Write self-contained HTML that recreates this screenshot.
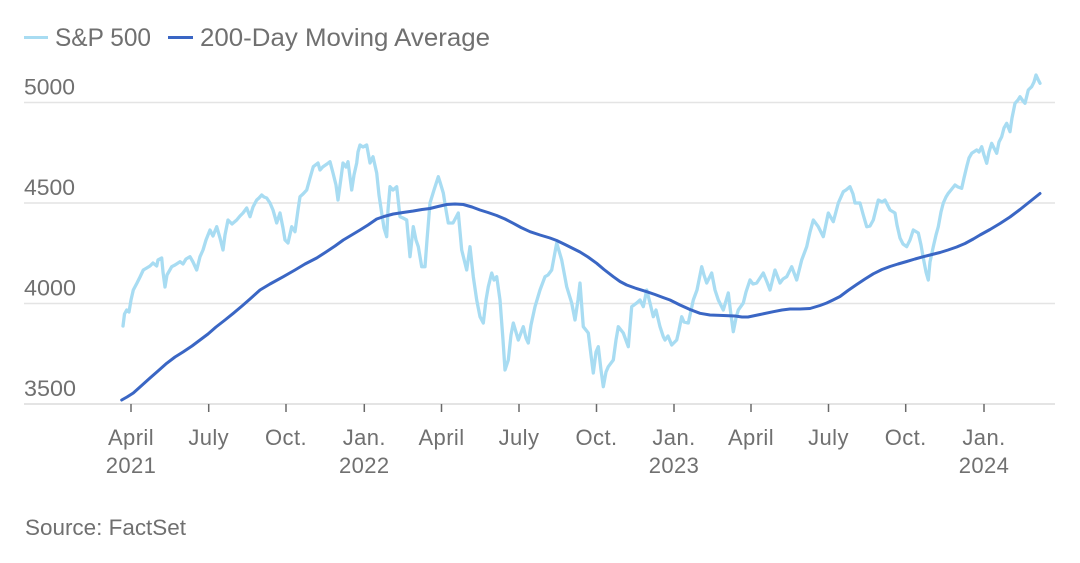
<!DOCTYPE html>
<html><head><meta charset="utf-8"><style>
html,body{margin:0;padding:0;background:#fff;}
body{width:1080px;height:563px;overflow:hidden;}
svg{display:block;}
text{font-family:"Liberation Sans",sans-serif;fill:#707070;}
</style></head><body>
<svg width="1080" height="563" viewBox="0 0 1080 563" xmlns="http://www.w3.org/2000/svg">
<!-- legend -->
<line x1="24" y1="37.5" x2="48" y2="37.5" stroke="#a8dcf2" stroke-width="3"/>
<text x="55" y="46" font-size="25" textLength="96" lengthAdjust="spacingAndGlyphs">S&amp;P 500</text>
<line x1="168" y1="37.5" x2="193" y2="37.5" stroke="#3a66c4" stroke-width="3"/>
<text x="200" y="46" font-size="25" textLength="290" lengthAdjust="spacingAndGlyphs">200-Day Moving Average</text>
<!-- grid -->
<g stroke="#e4e4e4" stroke-width="1.5">
<line x1="24" y1="102.5" x2="1055" y2="102.5"/>
<line x1="24" y1="203" x2="1055" y2="203"/>
<line x1="24" y1="303.5" x2="1055" y2="303.5"/>
<line x1="24" y1="404" x2="1055" y2="404" stroke="#dcdcdc"/>
</g>
<g font-size="22">
<text x="24" y="94.5" textLength="51" lengthAdjust="spacingAndGlyphs">5000</text>
<text x="24" y="195" textLength="51" lengthAdjust="spacingAndGlyphs">4500</text>
<text x="24" y="295.5" textLength="52" lengthAdjust="spacingAndGlyphs">4000</text>
<text x="24" y="396" textLength="52" lengthAdjust="spacingAndGlyphs">3500</text>
</g>
<!-- ticks -->
<g stroke="#6a6a6a" stroke-width="1.5">
<line x1="131" y1="404" x2="131" y2="412"/>
<line x1="208.7" y1="404" x2="208.7" y2="412"/>
<line x1="286" y1="404" x2="286" y2="412"/>
<line x1="364.3" y1="404" x2="364.3" y2="412"/>
<line x1="441.5" y1="404" x2="441.5" y2="412"/>
<line x1="519" y1="404" x2="519" y2="412"/>
<line x1="596.5" y1="404" x2="596.5" y2="412"/>
<line x1="674" y1="404" x2="674" y2="412"/>
<line x1="751" y1="404" x2="751" y2="412"/>
<line x1="828.5" y1="404" x2="828.5" y2="412"/>
<line x1="905.7" y1="404" x2="905.7" y2="412"/>
<line x1="984" y1="404" x2="984" y2="412"/>
</g>
<g font-size="22" text-anchor="middle" letter-spacing="0.4">
<text x="131" y="445">April</text><text x="131" y="473">2021</text>
<text x="208.7" y="445">July</text>
<text x="286" y="445">Oct.</text>
<text x="364.3" y="445">Jan.</text><text x="364.3" y="473">2022</text>
<text x="441.5" y="445">April</text>
<text x="519" y="445">July</text>
<text x="596.5" y="445">Oct.</text>
<text x="674" y="445">Jan.</text><text x="674" y="473">2023</text>
<text x="751" y="445">April</text>
<text x="828.5" y="445">July</text>
<text x="905.7" y="445">Oct.</text>
<text x="984" y="445">Jan.</text><text x="984" y="473">2024</text>
</g>
<!-- S&P 500 -->
<polyline fill="none" stroke="#a8dcf2" stroke-width="3.3" stroke-linejoin="round" stroke-linecap="round" points="
123,326 124.5,314 126.7,310 129,312 131,300 133.3,290 137,283 140,277 143.3,270 146.7,268 150,266 153,263 156.7,266 158,260 161.7,258 163,272 165,287 167,275 171.7,266.7 175,265 180,261.7 183,264 186,259 190,256.7 193,262 196.7,270 200,256.7 203,250 206,240 210,230 213,236 216.7,226.7 220,238 223,250 225,235 228,220 232,224 236.7,220 240,216 243,213 246.7,208 250,216.7 253,207 256.7,200 259,198 261.7,195 264,197 266.7,198 270,203 273,210 276.7,223 280,213 283,228 285,240 288,243 291.7,226.7 295,231.7 298,210 300,196.7 303,194 306.7,190 310,178 313.3,166.7 318,163 320,170 323,166.7 327,164 330,161.7 333,173 336,185 338,200 341,178 343,163 346,167 348,161.7 351.7,190 354,175 356.7,163 358,152 360,145 363,147 366.7,145 368,152 370,163 373,156.7 376.7,173 379,195 381.7,213 384,228 386.7,236.7 388,210 390,186.7 393,190 396.7,186.7 400,216.7 403,218 406.7,220 410,256.7 413.3,226.7 416,240 418.3,246.7 421.7,266.7 425,266.7 427,240 430,203 434,190 438.3,176.7 440,182 443.3,193 446,210 448.3,223 453,223 458.3,213 461.7,250 466.7,270 470,246.7 473.3,276.7 476.7,300 480,316.7 483.3,323 486,300 488.3,286.7 491.7,273 494,280 496.7,276.7 500,300 503,340 505,370 508.3,360 511,335 513.3,323 518.3,340 523.3,326.7 526,338 528.3,343 531,325 535,306.7 540,290 545,276.7 548,275 551.7,270 556.7,243 561.7,260 566.7,286.7 571.7,303 575,320 578,300 580,283 583.3,326.7 588.3,333 591,355 593.3,373 596,352 598.3,346.7 601,370 603.3,386.7 606,372 608.3,366.7 613.3,360 616,340 618.3,326.7 623.3,333 628.3,346.7 631.7,306.7 636.7,303 640,300 643.3,306.7 646.7,290 650,303 653.3,316.7 656,310 660,326.7 663.3,336.7 665,340 668,336 671.7,345 676.7,340 679,330 681.7,316.7 684,322 688.3,323 693.3,300 697,290 701.7,266.7 704,275 706.7,283 711.7,273 715,290 718.3,300 723.3,310 728.3,293 731,315 733.3,331.7 736,318 738.3,310 743.3,303 746,292 750,280 753,284 756.7,283 760,278 763.3,273 767,282 770,290 775,270 780,283 783,279 786.7,276.7 791.7,266.7 796.7,280 801.7,260 806.7,246.7 810,232 813.3,220 818.3,226.7 823.3,236.7 828.3,213 833.3,221.7 838.3,203 843.3,191.7 846,190 850,186.7 853,194 855,203 860,203 863,214 866.7,226.7 870,226 873.3,220 878.3,200 882,202 885,200 890,210 895,213 897,225 900,238 903,244 906.7,246.7 910,240 913.3,230 918.3,233 921,245 923.3,258 926,272 928.3,280 930,262 933.3,246.7 936,235 938.3,226.7 941,212 943.3,203 946,197 948.3,193.3 951,190 955,185 958,187 961.7,188.3 964,178 966.7,166.7 969,158 971.7,153.3 976.7,150 979,152 981.7,146.7 984,155 986.7,163.3 989,152 991.7,143.3 994,148 996.7,153.3 999,142 1001.7,136.7 1004,128 1006.7,123.3 1010,131.7 1012,118 1015,103.3 1018,100 1020,96.7 1023,101 1025,103.3 1028.3,90 1031.7,86.7 1034,82 1036,75 1038.3,80 1040,83.3"/>
<!-- 200-Day MA -->
<polyline fill="none" stroke="#3a66c4" stroke-width="3" stroke-linejoin="round" stroke-linecap="round" points="
121.7,400 127,397 133.3,393 140,387 150,378 158,371 166.7,363.3 175,357 183,352 192,346 200,340 208,334 216,327 225,320 233.3,313.3 242,306 250,299 260,290 270,284 283.3,276.7 295,270 305,264 316.7,258 326,252 335,246 343.3,240 350,236 360,230 368,225 376.7,219 384,216.5 393.3,214 403,212.5 413.3,211 422,209.5 430,208.5 438,206.5 446.7,204.5 455,204 463.3,204.5 472,207 480,210 488,212.5 496.7,215.5 505,219 513.3,223.3 521,227.5 530,231.7 540,235 550,238 556.7,240.5 565,244.5 572,248 580,252 588,257 596.7,263.3 604,269.5 613.3,276.7 620,281.5 626.7,285 635,288 646.7,291.7 655,294.5 663,297.5 670,300 680,305 690,309.5 700,313.3 710,315 723.3,315.5 735,316 742,317 748,317 760,314.5 773.3,311.7 782,310 790,309 800,309 810,308.5 820,305.5 826.7,303 833,300 840,296.5 848,290.5 856.7,284.5 865,279 873.3,273.8 882,269.5 890,266.5 898,264 906.7,261.5 915,259 923.3,256.7 932,254.5 940,252.5 948,250 956.7,247 965,243.5 973.3,239 980,235 990,229.5 1000,223.5 1010,217 1020,209.5 1030,201.5 1040,193.5"/>
<text x="25" y="535" font-size="22" textLength="161" lengthAdjust="spacingAndGlyphs">Source: FactSet</text>
</svg>
</body></html>
